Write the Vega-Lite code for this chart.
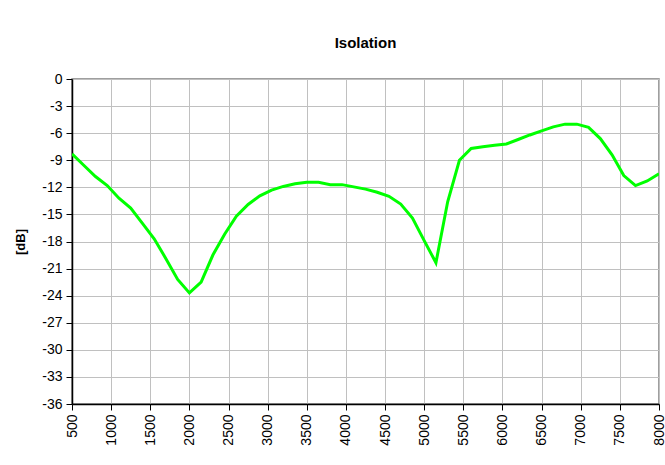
{
  "$schema": "https://vega.github.io/schema/vega-lite/v6.json",
  "width": 587,
  "height": 325,
  "autosize": {"type": "none"},
  "padding": {"left": 72, "top": 79, "right": 6, "bottom": 61},
  "background": "white",
  "title": {"text": "Isolation", "font": "Liberation Sans", "fontSize": 15, "fontWeight": "bold", "color": "black", "offset": 21, "anchor": "middle"},
  "config": {
    "view": {"stroke": "#808080", "strokeWidth": 1.5},
    "axis": {"labelFont": "Liberation Sans", "labelFontSize": 13, "labelColor": "black", "titleFont": "Liberation Sans", "titleColor": "black", "domainColor": "black", "domainWidth": 1.5, "tickColor": "black", "tickSize": 6, "gridColor": "#c0c0c0", "gridWidth": 1, "gridOpacity": 1}
  },
  "data": {"values": [
    {"f": 500, "db": -8.3}, {"f": 650, "db": -9.55}, {"f": 800, "db": -10.8}, {"f": 950, "db": -11.8},
    {"f": 1100, "db": -13.2}, {"f": 1250, "db": -14.3}, {"f": 1400, "db": -16.0}, {"f": 1550, "db": -17.7},
    {"f": 1700, "db": -19.9}, {"f": 1850, "db": -22.2}, {"f": 2000, "db": -23.7}, {"f": 2150, "db": -22.5},
    {"f": 2300, "db": -19.5}, {"f": 2450, "db": -17.2}, {"f": 2600, "db": -15.2}, {"f": 2750, "db": -13.9},
    {"f": 2900, "db": -12.95}, {"f": 3050, "db": -12.3}, {"f": 3200, "db": -11.9}, {"f": 3350, "db": -11.6},
    {"f": 3500, "db": -11.45}, {"f": 3650, "db": -11.45}, {"f": 3800, "db": -11.7}, {"f": 3950, "db": -11.7},
    {"f": 4100, "db": -11.95}, {"f": 4250, "db": -12.2}, {"f": 4400, "db": -12.55}, {"f": 4550, "db": -13.0},
    {"f": 4700, "db": -13.85}, {"f": 4850, "db": -15.4}, {"f": 5000, "db": -17.9}, {"f": 5150, "db": -20.35},
    {"f": 5300, "db": -13.6}, {"f": 5450, "db": -9.0}, {"f": 5600, "db": -7.7}, {"f": 5750, "db": -7.5},
    {"f": 5900, "db": -7.35}, {"f": 6050, "db": -7.2}, {"f": 6200, "db": -6.7}, {"f": 6350, "db": -6.2},
    {"f": 6500, "db": -5.75}, {"f": 6650, "db": -5.3}, {"f": 6800, "db": -5.0}, {"f": 6950, "db": -5.0},
    {"f": 7100, "db": -5.35}, {"f": 7250, "db": -6.6}, {"f": 7400, "db": -8.4}, {"f": 7550, "db": -10.7},
    {"f": 7700, "db": -11.8}, {"f": 7850, "db": -11.3}, {"f": 8000, "db": -10.5}
  ]},
  "mark": {"type": "line", "color": "#00ff00", "strokeWidth": 3, "clip": true},
  "encoding": {
    "x": {"field": "f", "type": "quantitative", "scale": {"domain": [500, 8000], "nice": false, "zero": false},
      "axis": {"title": null, "values": [500,1000,1500,2000,2500,3000,3500,4000,4500,5000,5500,6000,6500,7000,7500,8000], "labelExpr": "'' + datum.value", "labelAngle": -90, "labelAlign": "right", "labelBaseline": "middle", "labelPadding": 4, "labelFontSize": 14}},
    "y": {"field": "db", "type": "quantitative", "scale": {"domain": [-36, 0], "nice": false},
      "axis": {"title": "[dB]", "titleFontSize": 13, "titleFontWeight": "bold", "titlePadding": 14, "values": [0,-3,-6,-9,-12,-15,-18,-21,-24,-27,-30,-33,-36], "labelExpr": "'' + datum.value", "labelPadding": 4, "labelFontSize": 14}}
  }
}
